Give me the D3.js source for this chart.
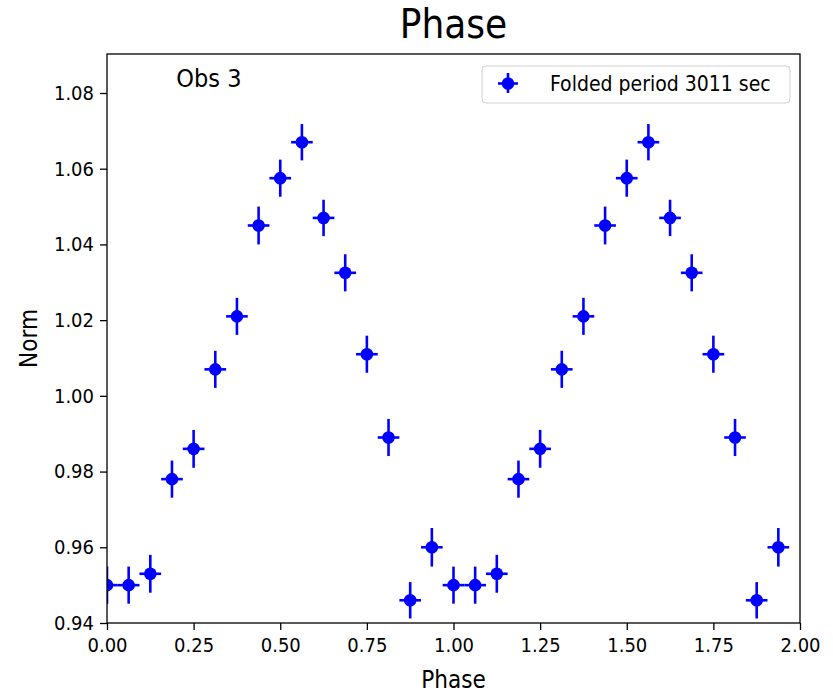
<!DOCTYPE html>
<html>
<head>
<meta charset="utf-8">
<script src="https://cdn.jsdelivr.net/npm/d3@7"></script>
<style>
  body { margin: 0; background: #fff; }
  svg text { font-family: "DejaVu Sans Condensed", "DejaVu Sans", sans-serif; fill: #000; }
</style>
</head>
<body>
<div class="canvas"></div>
<script>
// folded light curve, two cycles
const phase = [0, 0.0625, 0.125, 0.1875, 0.25, 0.3125, 0.375, 0.4375,
    0.5, 0.5625, 0.625, 0.6875, 0.75, 0.8125, 0.875, 0.9375,
    1.0, 1.0625, 1.125, 1.1875, 1.25, 1.3125, 1.375, 1.4375,
    1.5, 1.5625, 1.625, 1.6875, 1.75, 1.8125, 1.875, 1.9375]
const norm = [0.950, 0.950, 0.953, 0.978, 0.986, 1.007, 1.021, 1.045,
    1.0575, 1.067, 1.047, 1.0325, 1.011, 0.989, 0.946, 0.960,
    0.950, 0.950, 0.953, 0.978, 0.986, 1.007, 1.021, 1.045,
    1.0575, 1.067, 1.047, 1.0325, 1.011, 0.989, 0.946, 0.960]
const normErr = [0.0049, 0.0049, 0.005, 0.0049, 0.005, 0.0049, 0.0049, 0.005,
    0.0049, 0.0048, 0.0048, 0.0049, 0.0049, 0.0049, 0.0048, 0.0051,
    0.0049, 0.0049, 0.005, 0.0049, 0.005, 0.0049, 0.0049, 0.005,
    0.0049, 0.0048, 0.0048, 0.0049, 0.0049, 0.0049, 0.0048, 0.0051]
const phaseErr = 0.03125

const xTicks = [0, 0.25, 0.5, 0.75, 1.0, 1.25, 1.5, 1.75, 2.0]
const yTicks = [0.94, 0.96, 0.98, 1.00, 1.02, 1.04, 1.06, 1.08]
const xDomain = [0, 2]
const yDomain = [0.94, 1.0903]

const titleText = 'Phase'
const xLabel = 'Phase'
const yLabel = 'Norm'
const noteText = 'Obs 3'
const legendText = 'Folded period 3011 sec'

const width = 833
const height = 693
const margin = { top: 54, right: 33, bottom: 70, left: 107 }
const graphWidth = width - margin.left - margin.right
const graphHeight = height - margin.top - margin.bottom

const data = phase.map((p, i) => ({ phase: p, norm: norm[i], err: normErr[i] }))

const svg = d3.select('.canvas')
    .append('svg')
    .attr('width', width)
    .attr('height', height)

const graph = svg.append('g')
    .attr('transform', `translate(${margin.left}, ${margin.top})`)

// scales
const x = d3.scaleLinear().domain(xDomain).range([0, graphWidth])
const y = d3.scaleLinear().domain(yDomain).range([graphHeight, 0])

graph.append('clipPath')
    .attr('id', 'plot-clip')
    .append('rect')
    .attr('width', graphWidth)
    .attr('height', graphHeight)

// axes
const xAxis = d3.axisBottom(x)
    .tickValues(xTicks)
    .tickSize(7)
    .tickPadding(5)
    .tickFormat(d3.format('.2f'))

const yAxis = d3.axisLeft(y)
    .tickValues(yTicks)
    .tickSize(7)
    .tickPadding(6)
    .tickFormat(d3.format('.2f'))

const xAxisGroup = graph.append('g')
    .attr('transform', `translate(0, ${graphHeight})`)
    .call(xAxis)

const yAxisGroup = graph.append('g')
    .call(yAxis)

;[xAxisGroup, yAxisGroup].forEach(g => {
    g.select('.domain').remove()
    g.selectAll('line').attr('stroke', '#000').attr('stroke-width', 1.3)
    g.selectAll('text').attr('font-size', 20).attr('fill', '#000')
})
xAxisGroup.selectAll('text').attr('dy', '0.85em')

// error bars + markers
const points = graph.append('g')
    .attr('clip-path', 'url(#plot-clip)')

points.selectAll('.xerr')
    .data(data).enter()
    .append('line')
    .attr('class', 'xerr')
    .attr('x1', d => x(d.phase - phaseErr))
    .attr('x2', d => x(d.phase + phaseErr))
    .attr('y1', d => y(d.norm))
    .attr('y2', d => y(d.norm))
    .attr('stroke', '#0000ff')
    .attr('stroke-width', 2.6)

points.selectAll('.yerr')
    .data(data).enter()
    .append('line')
    .attr('class', 'yerr')
    .attr('x1', d => x(d.phase))
    .attr('x2', d => x(d.phase))
    .attr('y1', d => y(d.norm - d.err))
    .attr('y2', d => y(d.norm + d.err))
    .attr('stroke', '#0000ff')
    .attr('stroke-width', 2.6)

points.selectAll('circle')
    .data(data).enter()
    .append('circle')
    .attr('cx', d => x(d.phase))
    .attr('cy', d => y(d.norm))
    .attr('r', 6.3)
    .attr('fill', '#0000ff')

// frame
graph.append('rect')
    .attr('width', graphWidth)
    .attr('height', graphHeight)
    .attr('fill', 'none')
    .attr('stroke', '#000')
    .attr('stroke-width', 1.3)

// texts
svg.append('text')
    .attr('x', margin.left + graphWidth / 2)
    .attr('y', 38)
    .attr('text-anchor', 'middle')
    .attr('font-size', 40)
    .text(titleText)

svg.append('text')
    .attr('x', margin.left + graphWidth / 2)
    .attr('y', 688)
    .attr('text-anchor', 'middle')
    .attr('font-size', 24)
    .text(xLabel)

svg.append('text')
    .attr('transform', `translate(37, ${margin.top + graphHeight / 2}) rotate(-90)`)
    .attr('text-anchor', 'middle')
    .attr('font-size', 24)
    .text(yLabel)

graph.append('text')
    .attr('x', x(0.2))
    .attr('y', y(1.0815))
    .attr('font-size', 25)
    .text(noteText)

// legend
const legend = graph.append('g')
    .attr('transform', `translate(${graphWidth - 318}, 12)`)

legend.append('rect')
    .attr('width', 308)
    .attr('height', 37)
    .attr('rx', 4)
    .attr('fill', '#fff')
    .attr('fill-opacity', 0.8)
    .attr('stroke', '#d0d0d0')
    .attr('stroke-width', 1)

legend.append('line')
    .attr('x1', 16).attr('x2', 36)
    .attr('y1', 17.5).attr('y2', 17.5)
    .attr('stroke', '#0000ff').attr('stroke-width', 2.6)

legend.append('line')
    .attr('x1', 26).attr('x2', 26)
    .attr('y1', 7).attr('y2', 27)
    .attr('stroke', '#0000ff').attr('stroke-width', 2.6)

legend.append('circle')
    .attr('cx', 26).attr('cy', 17.5)
    .attr('r', 6.3)
    .attr('fill', '#0000ff')

legend.append('text')
    .attr('x', 68)
    .attr('y', 25)
    .attr('font-size', 21)
    .text(legendText)
</script>
</body>
</html>
